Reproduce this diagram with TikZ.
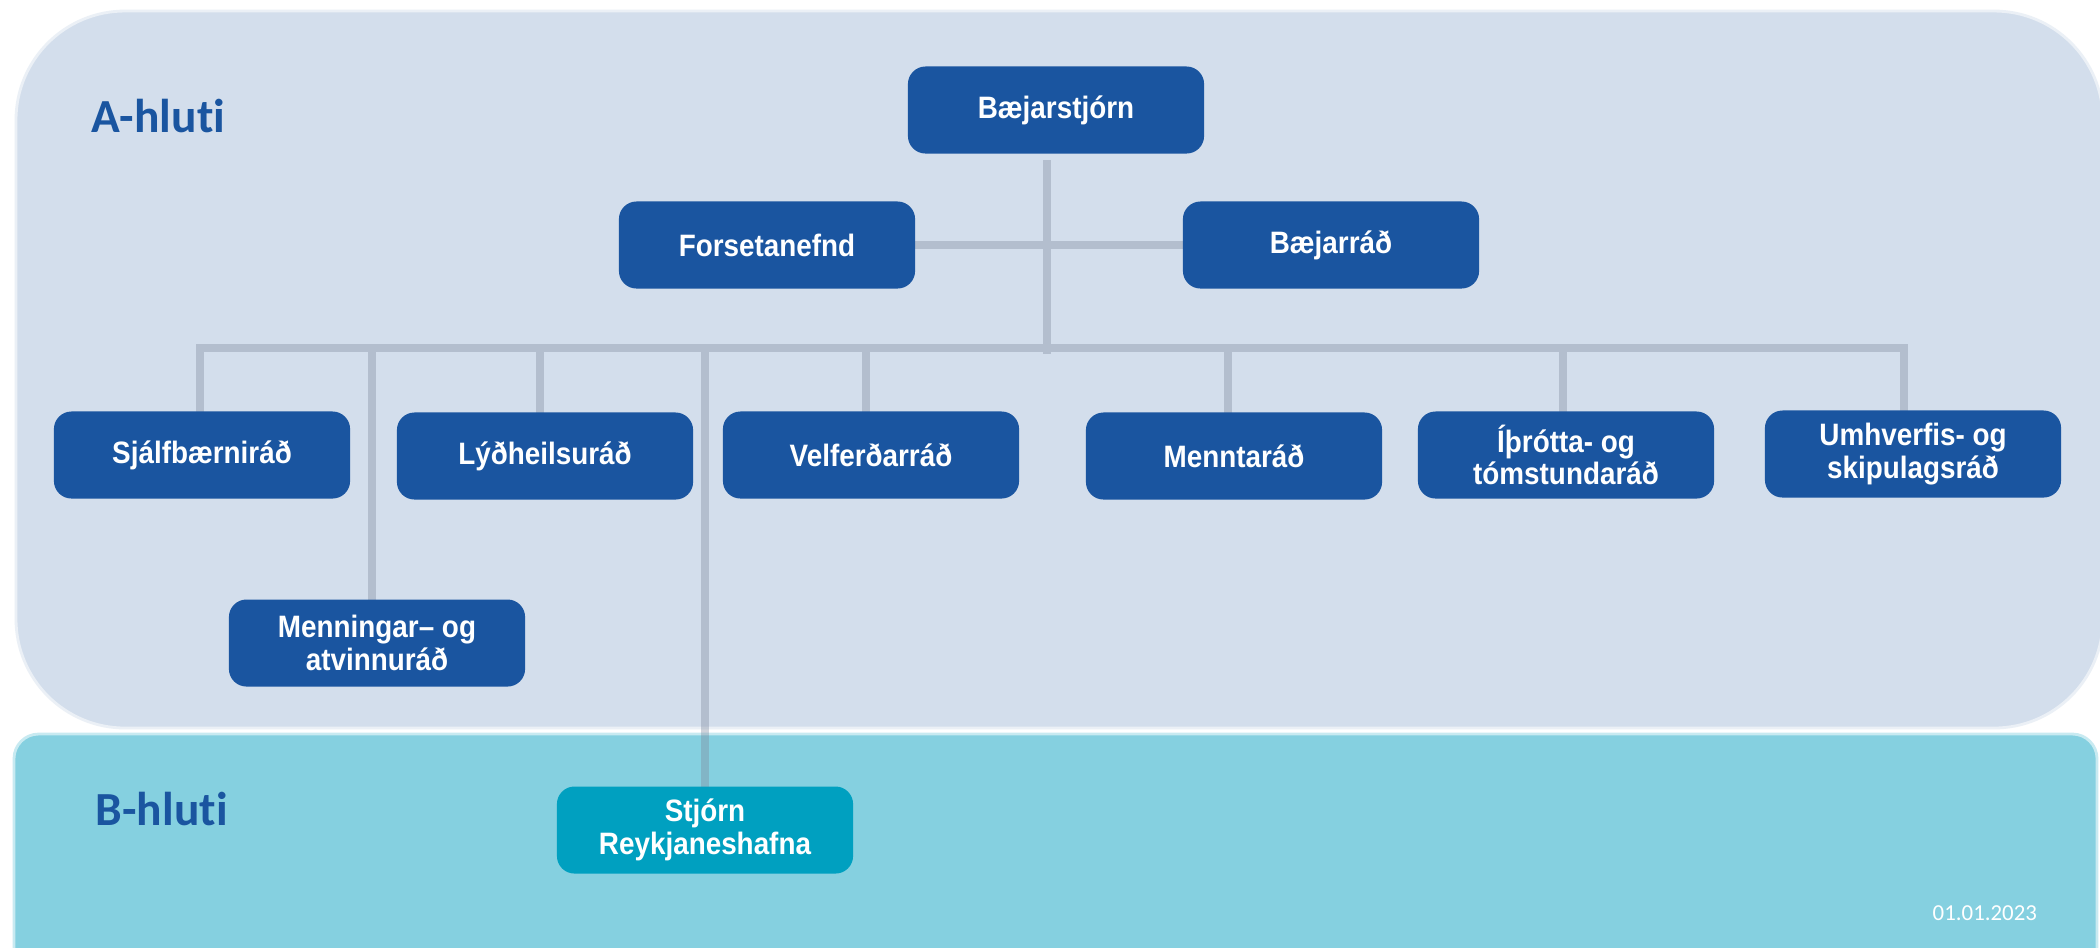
\documentclass[tikz,border=0pt]{standalone}
\usepackage{fontspec}
\setmainfont{Liberation Sans}
\newfontfamily\boxfont{Liberation Sans}[FakeStretch=0.9]
\newfontfamily\calfont{Carlito}[Ligatures={NoCommon,NoRequired,NoContextual}]
\definecolor{panelA}{HTML}{D3DEEC}
\definecolor{panelB}{HTML}{85D0E0}
\definecolor{nodeblue}{HTML}{1A55A0}
\definecolor{nodecyan}{HTML}{00A0C0}
\definecolor{linegray}{HTML}{7F8A9E}
\definecolor{titleblue}{HTML}{1A55A0}
\pgfdeclarelayer{bg}
\pgfdeclarelayer{lines}
\pgfsetlayers{bg,lines,main}
\begin{document}
\begin{tikzpicture}[x=0.01cm,y=-0.01cm,
  unitbox/.style={rectangle, rounded corners=5pt, minimum width=2.96cm, minimum height=0.87cm,
    inner sep=0pt, align=center, text=white, fill=nodeblue,
    font=\boxfont\bfseries\fontsize{8.8}{9.3}\selectfont},
  conn/.style={draw=linegray, draw opacity=0.38, line width=2.3pt, line cap=rect},
  parttitle/.style={anchor=base west, inner sep=0pt, text=titleblue,
    font=\calfont\bfseries\fontsize{13.5}{15}\selectfont}]
\useasboundingbox (0,0) rectangle (2100,947);
\begin{pgfonlayer}{bg}
  \fill[white] (0,0) rectangle (2100,947);
  \path[fill=panelA, draw=white!55!panelA, line width=0.8pt, rounded corners=31pt] (16,11) rectangle (2103,728);
  \path[fill=panelB, draw=white!55!panelB, line width=0.8pt, rounded corners=7pt] (14,734) rectangle (2097,990);
\end{pgfonlayer}

\node[parttitle] (ta) at (91,132) {A-hluti};
\node[parttitle] (tb) at (95,825) {B-hluti};
\node[anchor=base west, inner sep=0pt, text=white, font=\calfont\fontsize{6.5}{8}\selectfont] (date) at (1932,920) {01.01.2023};

\node[unitbox] (bs) at (1056,110) {Bæjarstjórn};
\node[unitbox] (fn) at (767,245) {Forsetanefnd};
\node[unitbox] (br) at (1331,245) {Bæjarráð};

\node[unitbox] (sj) at (202,455) {Sjálfbærniráð};
\node[unitbox] (ly) at (545,456) {Lýðheilsuráð};
\node[unitbox] (ve) at (871,455) {Velferðarráð};
\node[unitbox] (me) at (1234,456) {Menntaráð};
\node[unitbox] (ith) at (1566,455) {Íþrótta- og\\tómstundaráð};
\node[unitbox] (um) at (1913,454) {Umhverfis- og\\skipulagsráð};
\node[unitbox] (mn) at (377,643) {Menningar– og\\atvinnuráð};
\node[unitbox, fill=nodecyan] (st) at (705,830) {Stjórn\\Reykjaneshafna};

\coordinate (d1) at (200,348);
\coordinate (d2) at (372,348);
\coordinate (d3) at (540,348);
\coordinate (d4) at (705,348);
\coordinate (d5) at (866,348);
\coordinate (d6) at (1228,348);
\coordinate (d7) at (1563,348);
\coordinate (d8) at (1904,348);
\coordinate (v0) at (1047,350);

\begin{pgfonlayer}{lines}
  \draw[conn] (d1) -- (d8)
    (d1) -- (d1 |- sj.north)
    (d2) -- (d2 |- mn.north)
    (d3) -- (d3 |- ly.north)
    (d4) -- (d4 |- st.north)
    (d5) -- (d5 |- ve.north)
    (d6) -- (d6 |- me.north)
    (d7) -- (d7 |- ith.north)
    (d8) -- (d8 |- um.north)
    ([yshift=-1mm]bs.south -| v0) -- (v0)
    (fn.east) -- (br.west);
\end{pgfonlayer}
\end{tikzpicture}
\end{document}
